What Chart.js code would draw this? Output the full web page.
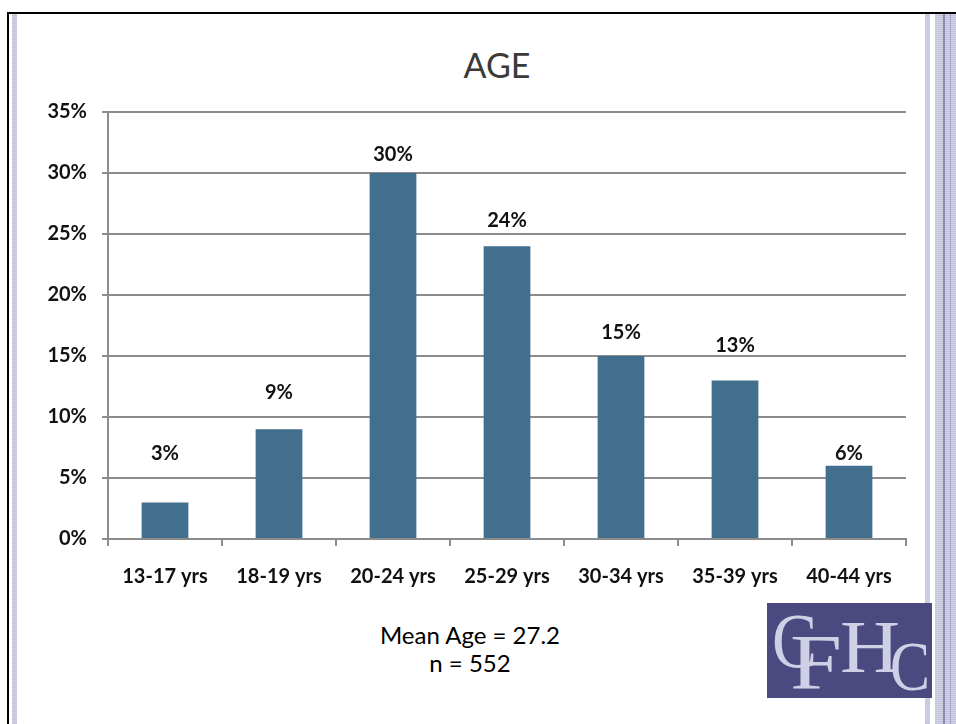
<!DOCTYPE html>
<html>
<head>
<meta charset="utf-8">
<title>AGE</title>
<script src="https://cdn.jsdelivr.net/npm/chart.js@4.4.1/dist/chart.umd.min.js"></script>
<style>
    body { margin: 0; width: 956px; height: 724px; background: #fff; position: relative; overflow: hidden; font-family: Lato, "Open Sans", sans-serif; }
    .frame-top { position: absolute; left: 7px; top: 12px; width: 949px; height: 2px; background: #000; }
    .frame-left { position: absolute; left: 7px; top: 12px; width: 2px; height: 712px; background: #000; }
    .stripe { position: absolute; top: 14px; height: 710px; background: repeating-linear-gradient(0deg, #c3c3da 0 1px, #d3d3e6 1px 2px); }
    .stripe.dark { background: #8a8ab4; }
    #title { position: absolute; left: 397px; top: 44px; width: 200px; text-align: center; font-size: 34px; line-height: 42px; color: #3a3a3a; }
    #wrap { position: absolute; left: 20px; top: 20px; width: 929px; height: 580px; }
    .note { position: absolute; left: 350px; width: 240px; text-align: center; font-size: 24px; color: #000; line-height: 28px; }
    #logo { position: absolute; left: 767px; top: 603px; }
</style>
</head>
<body>
<div class="frame-top"></div>
<div class="frame-left"></div>
<div class="stripe" style="left:12px;width:5px"></div>
<div class="stripe" style="left:925px;width:5px"></div>
<div class="stripe" style="left:935px;width:21px"></div>
<div class="stripe dark" style="left:943px;width:2px"></div>
<div class="stripe dark" style="left:950px;width:1px;opacity:0.6"></div>

<div id="title">AGE</div>
<div id="wrap"><canvas id="ageChart" width="929" height="580"></canvas></div>

<div class="note" style="top:621px">Mean Age = 27.2</div>
<div class="note" style="top:649px">n = 552</div>

<svg id="logo" width="165" height="95" viewBox="0 0 165 95">
    <rect width="165" height="95" fill="#4b4a80"/>
    <g fill="#cfcfe6" font-family="'Liberation Serif', 'DejaVu Serif', serif">
        <text x="5" y="64" font-size="78" textLength="45" lengthAdjust="spacingAndGlyphs">C</text>
        <text x="23" y="85" font-size="78" textLength="52" lengthAdjust="spacingAndGlyphs">F</text>
        <text x="73" y="69" font-size="74" textLength="60" lengthAdjust="spacingAndGlyphs">H</text>
        <text x="123" y="87" font-size="70" textLength="40" lengthAdjust="spacingAndGlyphs">C</text>
    </g>
</svg>

<script>
// age groups and share of clients in each (percent)
const ageGroups = ['13-17 yrs', '18-19 yrs', '20-24 yrs', '25-29 yrs', '30-34 yrs', '35-39 yrs', '40-44 yrs'];
const shares = [3, 9, 30, 24, 15, 13, 6];
const yTicks = [0, 5, 10, 15, 20, 25, 30, 35];

// how far each value label sits above its bar, in px
const labelLift = [49, 37, 18, 26, 23, 35, 12];

const gridGrey = '#8c8c8c';
const boldFont = { family: 'Lato, "Open Sans", sans-serif', size: 20, weight: 'bold' };

// writes the percentage above each bar
const valueLabels = {
    id: 'valueLabels',
    afterDatasetsDraw(chart) {
        const ctx = chart.ctx;
        const meta = chart.getDatasetMeta(0);
        ctx.save();
        ctx.font = 'bold 20px Lato, "Open Sans", sans-serif';
        ctx.fillStyle = '#111';
        ctx.textAlign = 'center';
        ctx.textBaseline = 'middle';
        meta.data.forEach((bar, i) => {
            ctx.fillText(shares[i] + '%', bar.x, bar.y - labelLift[i]);
        });
        ctx.restore();
    }
};

const ctx = document.getElementById('ageChart').getContext('2d');
const ageChart = new Chart(ctx, {
    type: 'bar',
    data: {
        labels: ageGroups,
        datasets: [{
            label: 'Age',
            data: shares,
            backgroundColor: '#436f8f',
            borderWidth: 0,
            barPercentage: 0.41,
            categoryPercentage: 1
        }]
    },
    options: {
        responsive: false,
        animation: false,
        layout: { padding: { left: 25, right: 43, top: 92, bottom: 11 } },
        plugins: {
            legend: { display: false },
            tooltip: { enabled: false }
        },
        scales: {
            x: {
                grid: { drawOnChartArea: false, color: gridGrey, lineWidth: 2, tickLength: 7 },
                border: { color: gridGrey, width: 2 },
                ticks: { color: '#111', font: boldFont, padding: 19, maxRotation: 0 },
                afterFit(scale) { scale.height = 50; }
            },
            y: {
                min: 0,
                max: 35,
                afterBuildTicks(scale) { scale.ticks = yTicks.map(v => ({ value: v })); },
                grid: { color: gridGrey, lineWidth: 2, tickLength: 6 },
                border: { color: gridGrey, width: 2 },
                ticks: { color: '#111', font: boldFont, padding: 15, callback: v => v + '%' },
                afterFit(scale) { scale.width = 63; }
            }
        }
    },
    plugins: [valueLabels]
});
</script>
</body>
</html>
